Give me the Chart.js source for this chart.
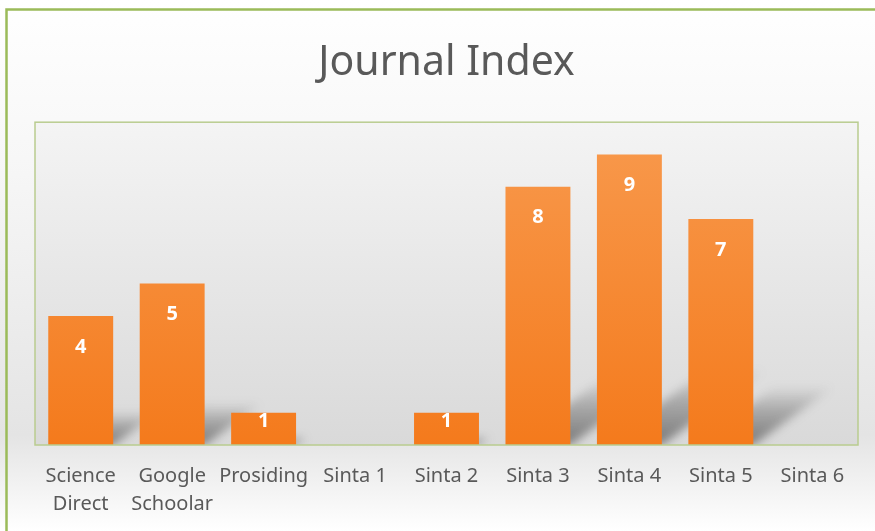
<!DOCTYPE html>
<html>
<head>
<meta charset="utf-8">
<script src="https://cdn.jsdelivr.net/npm/chart.js@4.4.1/dist/chart.umd.min.js"></script>
<style>
  html, body { margin: 0; padding: 0; background: #fff; }
  #wrap { position: relative; width: 875px; height: 531px; overflow: hidden; }
  canvas { display: block; }
</style>
</head>
<body>
<div id="wrap"><canvas id="c" width="875" height="531"></canvas></div>
<script>
// chart data
var categories = [['Science', 'Direct'], ['Google', 'Schoolar'], 'Prosiding', 'Sinta 1', 'Sinta 2', 'Sinta 3', 'Sinta 4', 'Sinta 5', 'Sinta 6'];
var counts = [4, 5, 1, 0, 1, 8, 9, 7, 0];
var axisMax = 10;

var FONT = '"Noto Sans", "Open Sans", sans-serif';
var TEXT = '#595959';

// frame, page gradient, plot panel and bar shadows
var backdrop = {
  id: 'backdrop',
  beforeDraw: function (chart) {
    var ctx = chart.ctx, a = chart.chartArea;
    var W = chart.width, H = chart.height;
    ctx.save();
    var g = ctx.createLinearGradient(0, 0, 0, H);
    g.addColorStop(0, '#ffffff');
    g.addColorStop(0.3, '#f7f7f7');
    g.addColorStop(0.82, '#e4e4e4');
    g.addColorStop(1, '#ffffff');
    ctx.fillStyle = g;
    ctx.fillRect(0, 0, W, H);

    var pg = ctx.createLinearGradient(0, a.top, 0, a.bottom);
    pg.addColorStop(0, '#f4f4f4');
    pg.addColorStop(1, '#d9d9d9');
    ctx.fillStyle = pg;
    ctx.fillRect(a.left, a.top, a.right - a.left, a.bottom - a.top);

    // soft diagonal shadows behind bars
    ctx.beginPath();
    ctx.rect(a.left, a.top, a.right - a.left, a.bottom - a.top);
    ctx.clip();
    ctx.filter = 'blur(5px)';
    chart.getDatasetMeta(0).data.forEach(function (bar) {
      var h = bar.base - bar.y;
      if (h <= 0) return;
      var l = bar.x - bar.width / 2, r = bar.x + bar.width / 2;
      var dx = h * 0.36, dy = h * 0.26;
      var sg = ctx.createLinearGradient(0, bar.base, 0, bar.base - dy);
      sg.addColorStop(0, 'rgba(80,80,80,0.7)');
      sg.addColorStop(0.6, 'rgba(80,80,80,0.35)');
      sg.addColorStop(1, 'rgba(80,80,80,0)');
      ctx.fillStyle = sg;
      ctx.beginPath();
      ctx.moveTo(l + 6, bar.base);
      ctx.lineTo(r, bar.base);
      ctx.lineTo(r + dx, bar.base - dy);
      ctx.lineTo(l + 6 + dx, bar.base - dy);
      ctx.closePath();
      ctx.fill();
    });
    ctx.restore();
  },
  afterDraw: function (chart) {
    var ctx = chart.ctx, a = chart.chartArea;
    ctx.save();
    ctx.strokeStyle = '#b9cc8f';
    ctx.lineWidth = 1.5;
    ctx.strokeRect(a.left, a.top, a.right - a.left, a.bottom - a.top);
    ctx.strokeStyle = '#9bbb59';
    ctx.lineWidth = 2.5;
    ctx.strokeRect(6.5, 9.5, chart.width + 20, chart.height + 20);

    // value labels inside bars
    ctx.fillStyle = '#ffffff';
    ctx.font = 'bold 20px ' + FONT;
    ctx.textAlign = 'center';
    ctx.textBaseline = 'middle';
    chart.getDatasetMeta(0).data.forEach(function (bar, i) {
      if (!counts[i]) return;
      var h = bar.base - bar.y;
      var off = Math.min(31, h / 2 - 8);
      ctx.fillText(String(counts[i]), bar.x, bar.y + off);
    });
    ctx.restore();
  }
};

var ctx = document.getElementById('c').getContext('2d');
var area = { top: 122, bottom: 445 };
var barFill = ctx.createLinearGradient(0, area.top, 0, area.bottom);
barFill.addColorStop(0, '#f89a4e');
barFill.addColorStop(1, '#f47a1c');

new Chart(ctx, {
  type: 'bar',
  data: {
    labels: categories,
    datasets: [{
      data: counts,
      backgroundColor: barFill,
      borderWidth: 0,
      barPercentage: 0.71,
      categoryPercentage: 1
    }]
  },
  options: {
    responsive: false,
    animation: false,
    layout: { padding: { left: 35, right: 17, top: 0, bottom: -4 } },
    plugins: {
      legend: { display: false },
      tooltip: { enabled: false },
      title: {
        display: true,
        text: 'Journal Index',
        color: TEXT,
        font: { family: FONT, size: 41, weight: 'normal', lineHeight: 1.2 },
        padding: { top: 39, bottom: 34 }
      }
    },
    scales: {
      x: {
        grid: { display: false, drawTicks: false },
        border: { display: false },
        ticks: {
          color: TEXT,
          font: { family: FONT, size: 20, lineHeight: 1.4 },
          padding: 17,
          maxRotation: 0,
          autoSkip: false
        }
      },
      y: {
        display: false,
        min: 0,
        max: axisMax
      }
    }
  },
  plugins: [backdrop]
});
</script>
</body>
</html>
